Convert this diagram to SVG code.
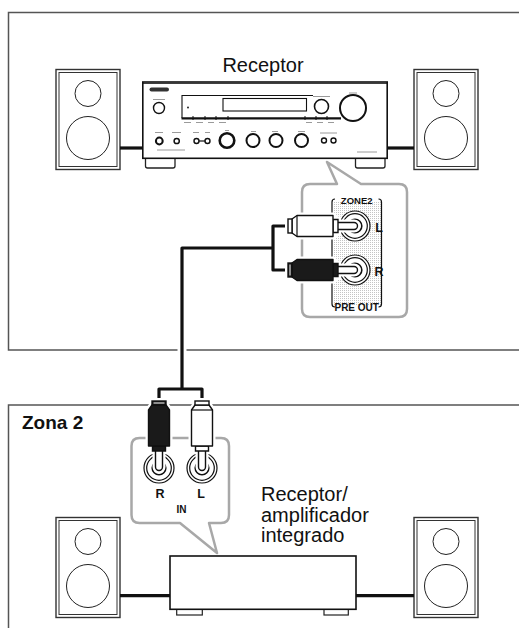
<svg xmlns="http://www.w3.org/2000/svg" width="519" height="628" viewBox="0 0 519 628">
  <style>
    .frame { fill: none; stroke: #555; stroke-width: 1.5; }
    .bubble { fill: #fff; stroke: #a8a8a8; stroke-width: 2.5; stroke-linejoin: round; }
    .ln { fill: none; stroke: #111; stroke-width: 1.2; }
    .box { fill: #fff; stroke: #111; stroke-width: 1.6; }
    .wire { fill: none; stroke: #111; stroke-width: 3.2; stroke-linejoin: round; }
    .halo { fill: none; stroke: #fff; stroke-width: 9; stroke-linejoin: round; }
    .label { font-family: "Liberation Sans", Arial, Helvetica, sans-serif; fill: #111; }
    .big { font-size: 20px; }
    .bold { font-weight: bold; }
    .tiny { stroke: #9a9a9a; stroke-width: 1; }
  </style>
  <defs>
    <pattern id="dots" width="2" height="2" patternUnits="userSpaceOnUse">
      <rect x="0" y="0" width="1" height="1" fill="#c4c4c4"/>
    </pattern>
    <!-- loudspeaker cabinet, 64 x 100 -->
    <g id="speaker">
      <rect x="0" y="0" width="64" height="100" fill="#fff" stroke="#333" stroke-width="1.4"/>
      <rect x="3" y="3" width="58" height="94" fill="none" stroke="#333" stroke-width="1"/>
      <circle cx="32" cy="24" r="13" fill="none" stroke="#222" stroke-width="1"/>
      <circle cx="32" cy="68.5" r="21.5" fill="none" stroke="#222" stroke-width="1"/>
    </g>
    <!-- RCA plug pointing down, origin at the pin tip (jack centre) -->
    <path id="plugOutline" d="M-7,-67 H7 V-63 L10.5,-58 V-22 L6.5,-18 V-17 H3.5 V-1 A3.5,3.5 0 0 1 -3.5,-1 V-17 H-6.5 V-18 L-10.5,-22 V-58 L-7,-63 Z"/>
    <g id="plugWhite">
      <use href="#plugOutline" fill="#fff" stroke="#fff" stroke-width="6"/>
      <path d="M-3.5,-18 V-1 A3.5,3.5 0 0 0 3.5,-1 V-18 Z" fill="#fff" stroke="#111" stroke-width="1.4"/>
      <path d="M-6.5,-22 H6.5 V-17 H-6.5 Z" fill="#fff" stroke="#111" stroke-width="1.4"/>
      <path d="M-7,-63 L-10.5,-58 V-22 H10.5 V-58 L7,-63 Z" fill="#fff" stroke="#111" stroke-width="1.4" stroke-linejoin="round"/>
      <line x1="-10.5" y1="-58" x2="10.5" y2="-58" stroke="#111" stroke-width="1.2"/>
      <rect x="-7" y="-67" width="14" height="4" fill="#fff" stroke="#111" stroke-width="1.4"/>
    </g>
    <g id="plugBlack">
      <use href="#plugOutline" fill="#fff" stroke="#fff" stroke-width="6"/>
      <path d="M-3.5,-18 V-1 A3.5,3.5 0 0 0 3.5,-1 V-18 Z" fill="#fff" stroke="#111" stroke-width="1.4"/>
      <path d="M-6.5,-22 H6.5 V-17 H-6.5 Z" fill="#1a1a1a" stroke="#111" stroke-width="1.4"/>
      <path d="M-7,-63 L-10.5,-58 V-22 H10.5 V-58 L7,-63 Z" fill="#1a1a1a" stroke="#111" stroke-width="1.4" stroke-linejoin="round"/>
      <rect x="-7" y="-67" width="14" height="4" fill="#1a1a1a" stroke="#111" stroke-width="1.4"/>
      <line x1="-5.5" y1="-65" x2="5.5" y2="-65" stroke="#fff" stroke-width="1"/>
    </g>
    <!-- RCA socket -->
    <g id="jack">
      <circle r="15" fill="#fff" stroke="#111" stroke-width="1.2"/>
      <circle r="12.3" fill="#fff" stroke="#111" stroke-width="1.2"/>
      <circle r="6.8" fill="#fff" stroke="#111" stroke-width="1.6"/>
    </g>
  </defs>

  <!-- zone frames -->
  <path class="frame" d="M530,12.5 H8.5 V350 H530"/>
  <path class="frame" d="M530,405 H8.5 V640"/>

  <!-- main room -->
  <g id="receiver">
    <rect x="145.5" y="157" width="29.5" height="11" rx="2" fill="#fff" stroke="#222" stroke-width="1.3"/>
    <rect x="355.5" y="157" width="29.5" height="11" rx="2" fill="#fff" stroke="#222" stroke-width="1.3"/>
    <rect class="box" x="142.8" y="82" width="244.4" height="76.3"/>
    <line x1="143" y1="83.3" x2="387" y2="83.3" stroke="#111" stroke-width="1"/>
    <!-- brand badge and power -->
    <rect x="149.5" y="87.5" width="19.5" height="4" rx="2" fill="#333"/>
    <line class="tiny" x1="153" y1="99.5" x2="165" y2="99.5"/>
    <circle cx="159" cy="108" r="5.5" fill="#fff" stroke="#111" stroke-width="1.4"/>
    <!-- display window -->
    <path d="M182,118 V95.5 H313" fill="none" stroke="#111" stroke-width="1.1"/>
    <rect x="223" y="98.5" width="83.5" height="12.5" fill="#fff" stroke="#111" stroke-width="1.1"/>
    <circle cx="188" cy="107.5" r="0.9" fill="#111"/>
    <line x1="181.5" y1="118.3" x2="341" y2="118.3" stroke="#111" stroke-width="2.2"/>
    <g stroke="#111" stroke-width="1">
      <line x1="193" y1="116" x2="193" y2="120"/>
      <line x1="205" y1="116" x2="205" y2="120"/>
      <line x1="216" y1="116" x2="216" y2="120"/>
      <line x1="228" y1="116" x2="228" y2="120"/>
      <line x1="305" y1="116" x2="305" y2="120"/>
      <line x1="316" y1="116" x2="316" y2="120"/>
      <line x1="327" y1="116" x2="327" y2="120"/>
    </g>
    <g class="tiny">
      <line x1="184" y1="122.5" x2="191" y2="122.5"/>
      <line x1="196" y1="122.5" x2="203" y2="122.5"/>
      <line x1="208" y1="122.5" x2="214" y2="122.5"/>
      <line x1="219" y1="122.5" x2="226" y2="122.5"/>
      <line x1="306" y1="122.5" x2="312" y2="122.5"/>
      <line x1="317" y1="122.5" x2="323" y2="122.5"/>
      <line x1="328" y1="122.5" x2="334" y2="122.5"/>
      <line x1="313" y1="96.5" x2="330" y2="96.5"/>
      <line x1="349" y1="93" x2="357" y2="93"/>
    </g>
    <circle cx="321.5" cy="106.5" r="7" fill="#fff" stroke="#111" stroke-width="1.6"/>
    <circle cx="353" cy="108" r="13" fill="#fff" stroke="#111" stroke-width="2"/>
    <!-- lower control row -->
    <g class="tiny">
      <line x1="155" y1="132.5" x2="163" y2="132.5"/>
      <line x1="172" y1="132.5" x2="181" y2="132.5"/>
      <line x1="193" y1="132.5" x2="199" y2="132.5"/>
      <line x1="205" y1="132.5" x2="210" y2="132.5"/>
      <line x1="225" y1="130.5" x2="229" y2="130.5"/>
      <line x1="251" y1="131.5" x2="256" y2="131.5"/>
      <line x1="272" y1="131.5" x2="278" y2="131.5"/>
      <line x1="298" y1="131.5" x2="305" y2="131.5"/>
      <line x1="320" y1="133" x2="337" y2="133"/>
      <line x1="157" y1="150" x2="185" y2="150"/>
      <line x1="357" y1="152" x2="377" y2="152"/>
    </g>
    <circle cx="159.3" cy="141" r="3.4" fill="#fff" stroke="#111" stroke-width="2"/>
    <circle cx="176.7" cy="141" r="2.6" fill="#fff" stroke="#111" stroke-width="1.5"/>
    <line x1="196.5" y1="141" x2="207.5" y2="141" stroke="#111" stroke-width="1.2"/>
    <circle cx="196.5" cy="141" r="2.5" fill="#fff" stroke="#111" stroke-width="1.4"/>
    <circle cx="207.5" cy="141" r="2.5" fill="#fff" stroke="#111" stroke-width="1.4"/>
    <circle cx="227" cy="140.5" r="7.3" fill="#fff" stroke="#111" stroke-width="2.6"/>
    <circle cx="253" cy="140.5" r="6.5" fill="#fff" stroke="#111" stroke-width="2"/>
    <circle cx="276" cy="140.5" r="6.5" fill="#fff" stroke="#111" stroke-width="2"/>
    <circle cx="301.5" cy="140.5" r="6.5" fill="#fff" stroke="#111" stroke-width="2"/>
    <circle cx="324" cy="140.5" r="2.5" fill="#fff" stroke="#111" stroke-width="1.4"/>
    <circle cx="333.5" cy="140.5" r="2.5" fill="#fff" stroke="#111" stroke-width="1.4"/>
    <text class="label big" x="263" y="72" text-anchor="middle">Receptor</text>
  </g>

  <g id="speaker-main-left"><use href="#speaker" x="56" y="69.5"/></g>
  <g id="speaker-main-right"><use href="#speaker" x="414" y="69.5"/></g>

  <!-- ZONE2 PRE OUT callout -->
  <g id="zone2-preout">
    <path class="bubble" d="M310,184 H337 L327,162 L361,184 H399 Q407,184 407,192 V309 Q407,317 399,317 H310 Q302,317 302,309 V192 Q302,184 310,184 Z"/>
    <rect x="333" y="201" width="48" height="104" fill="url(#dots)"/>
    <path d="M335,199 Q332,199 332,202 V304 Q332,307 335,307" class="ln"/>
    <path d="M378.5,199 Q381.5,199 381.5,202 V304 Q381.5,307 378.5,307" class="ln"/>
    <text class="label bold" x="356.7" y="204" font-size="9.5" text-anchor="middle">ZONE2</text>
    <text class="label bold" x="356.7" y="310.5" font-size="10" text-anchor="middle">PRE OUT</text>
    <use href="#jack" x="355" y="226"/>
    <use href="#jack" x="355" y="270"/>
    <text class="label bold" x="379" y="232" font-size="12.5" text-anchor="middle">L</text>
    <text class="label bold" x="379" y="276" font-size="12.5" text-anchor="middle">R</text>
  </g>

  <!-- zone 2 room -->
  <text class="label bold" x="22" y="428.5" font-size="19">Zona 2</text>

  <g id="zone2-in">
    <path class="bubble" d="M139.5,438 H221 Q229,438 229,446 V515 Q229,523 221,523 H209 L217,553 L180,523 H139.5 Q131.5,523 131.5,515 V446 Q131.5,438 139.5,438 Z"/>
    <use href="#jack" x="159" y="468"/>
    <use href="#jack" x="202" y="468"/>
    <text class="label bold" x="160" y="498" font-size="12.5" text-anchor="middle">R</text>
    <text class="label bold" x="201" y="498" font-size="12.5" text-anchor="middle">L</text>
    <text class="label bold" x="181.5" y="512.5" font-size="10" text-anchor="middle">IN</text>
  </g>

  <g id="zone2-amp">
    <rect x="176.7" y="609" width="25.6" height="6" fill="#fff" stroke="#222" stroke-width="1.2"/>
    <rect x="324" y="609" width="24.3" height="6" fill="#fff" stroke="#222" stroke-width="1.2"/>
    <rect class="box" x="170" y="556" width="186" height="53.3"/>
    <text class="label big" x="261" y="500.5"><tspan x="261">Receptor/</tspan><tspan x="261" dy="21">amplificador</tspan><tspan x="261" dy="20.5">integrado</tspan></text>
  </g>

  <g id="speaker-zone2-left"><use href="#speaker" x="56" y="517.5"/></g>
  <g id="speaker-zone2-right"><use href="#speaker" x="414" y="517.5"/></g>

  <!-- cables -->
  <g id="connectors">
    <line class="wire" x1="120" y1="148" x2="142.8" y2="148"/>
    <line class="wire" x1="387.2" y1="148" x2="414" y2="148"/>
    <line class="wire" x1="120" y1="595.7" x2="170" y2="595.7"/>
    <line class="wire" x1="356" y1="595.7" x2="414" y2="595.7"/>
    <path class="halo" d="M273,248 H182 V389"/>
    <path class="wire" d="M290,226 H273 V270 H290 M273,248 H182 V389 M159,402 V389 H202 V402"/>
    <!-- RCA plugs -->
    <use href="#plugWhite" transform="translate(355,226) rotate(-90)"/>
    <use href="#plugBlack" transform="translate(355,270) rotate(-90)"/>
    <use href="#plugBlack" transform="translate(159,468)"/>
    <use href="#plugWhite" transform="translate(202,468)"/>
  </g>
</svg>
